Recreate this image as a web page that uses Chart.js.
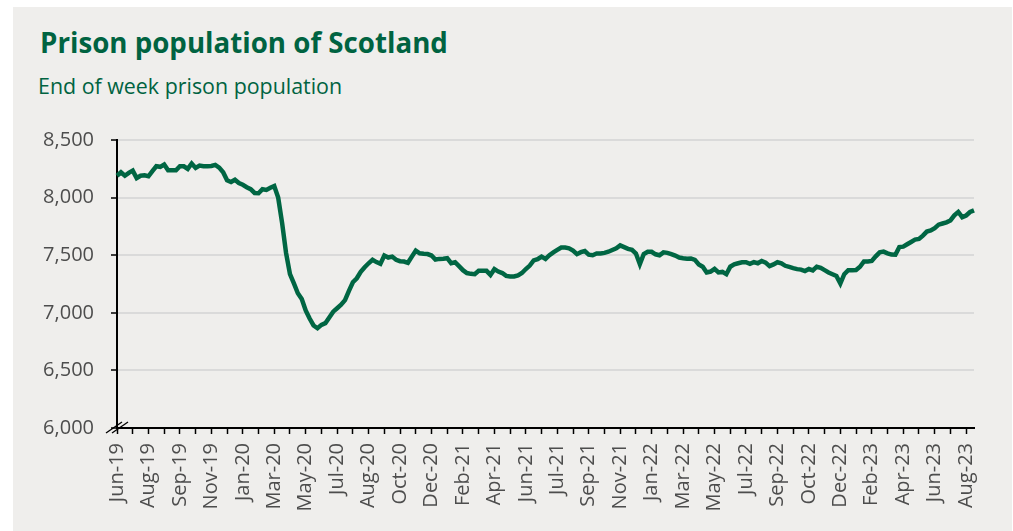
<!DOCTYPE html>
<html>
<head>
<meta charset="utf-8">
<script src="https://cdn.jsdelivr.net/npm/chart.js@4.4.0/dist/chart.umd.min.js"></script>
<style>
html,body{margin:0;padding:0;background:#ffffff;width:1013px;height:531px;overflow:hidden;}
#panel{position:absolute;left:13px;top:7px;width:999px;height:524px;background:#efeeec;}
#title{position:absolute;left:40px;top:29px;font-family:"Open Sans";font-weight:700;font-size:27.7px;line-height:1;color:#006341;white-space:nowrap;}
#sub{position:absolute;left:38px;top:75px;font-family:"Open Sans";font-weight:400;font-size:21.4px;line-height:1;color:#006341;white-space:nowrap;}
#c{position:absolute;left:0;top:0;}
</style>
</head>
<body>
<div id="panel"></div>
<div id="title">Prison population of Scotland</div>
<div id="sub">End of week prison population</div>
<canvas id="c" width="1013" height="531"></canvas>
<script>
// Tick labels along the x axis (one every 8 weeks)
const tickLabels = ['Jun-19','Aug-19','Sep-19','Nov-19','Jan-20','Mar-20','May-20','Jul-20','Aug-20','Oct-20','Dec-20','Feb-21','Apr-21','Jun-21','Jul-21','Sep-21','Nov-21','Jan-22','Mar-22','May-22','Jul-22','Sep-22','Oct-22','Dec-22','Feb-23','Apr-23','Jun-23','Aug-23'];
const weeksPerLabel = 8;
const weeksPerTickMark = 4;

// End of week prison population (weekly values)
const population = [
8190,8220,8190,8215,8234,8170,8190,8193,8185,8230,
8272,8267,8287,8237,8237,8237,8272,8272,8249,8296,
8258,8278,8272,8272,8275,8284,8260,8220,8150,8135,
8155,8126,8111,8090,8073,8040,8038,8073,8067,8085,
8100,8000,7780,7520,7335,7255,7170,7120,7020,6950,
6890,6866,6895,6910,6960,7010,7040,7070,7110,7190,
7265,7300,7355,7395,7430,7460,7440,7425,7497,7480,
7488,7460,7448,7445,7434,7488,7540,7517,7512,7510,
7497,7462,7468,7470,7474,7431,7439,7405,7370,7345,
7338,7335,7364,7364,7364,7329,7379,7358,7345,7320,
7315,7315,7325,7345,7380,7410,7455,7465,7488,7468,
7500,7525,7546,7566,7566,7560,7540,7509,7526,7536,
7505,7500,7515,7514,7520,7530,7545,7560,7585,7570,
7555,7546,7515,7422,7510,7530,7530,7508,7500,7525,
7520,7510,7497,7480,7474,7470,7472,7460,7420,7400,
7350,7358,7382,7350,7355,7335,7400,7420,7430,7439,
7439,7425,7440,7430,7450,7436,7405,7420,7439,7430,
7408,7398,7388,7379,7375,7362,7380,7368,7400,7390,
7370,7350,7335,7320,7254,7335,7370,7370,7372,7400,
7446,7446,7450,7490,7525,7531,7516,7505,7504,7570,
7574,7595,7615,7635,7641,7670,7705,7715,7735,7765,
7775,7785,7802,7846,7875,7830,7845,7875,7889
];

// Y axis settings
const yMin = 6000, yMax = 8500, yStep = 500;

Chart.defaults.font.family = '"Open Sans"';

const points = population.map((v, i) => ({x: i, y: v}));

const breakMark = {
  id: 'breakMark',
  afterDraw(chart) {
    const ctx = chart.ctx;
    const x0 = chart.scales.x.getPixelForValue(0);
    const y0 = chart.scales.y.getPixelForValue(yMin);
    ctx.save();
    ctx.strokeStyle = '#000';
    ctx.lineWidth = 1.3;
    [-3, 3].forEach(dx => {
      ctx.beginPath();
      ctx.moveTo(x0 + dx - 8, y0 + 5);
      ctx.lineTo(x0 + dx + 8, y0 - 6);
      ctx.stroke();
    });
    ctx.restore();
  }
};

new Chart(document.getElementById('c'), {
  type: 'line',
  data: {
    datasets: [{
      data: points,
      borderColor: '#006643',
      borderWidth: 4.5,
      pointRadius: 0,
      tension: 0,
      fill: false,
      clip: false
    }]
  },
  options: {
    responsive: false,
    animation: false,
    events: [],
    layout: {padding: {left: 13, top: 140, right: 39, bottom: 0}},
    plugins: {legend: {display: false}, tooltip: {enabled: false}},
    scales: {
      x: {
        type: 'linear',
        min: 0,
        max: population.length - 1,
        afterFit(s) { s.height = 103; },
        border: {display: true, color: '#000', width: 2},
        grid: {display: true, drawOnChartArea: false, drawTicks: true, tickLength: 6, tickColor: '#000', tickWidth: 1.5},
        ticks: {
          stepSize: weeksPerTickMark,
          autoSkip: false,
          includeBounds: false,
          maxRotation: 90,
          minRotation: 90,
          padding: 9,
          color: '#4d4d4d',
          font: {size: 20},
          callback: v => (v % weeksPerLabel === 0 && tickLabels[v / weeksPerLabel]) ? tickLabels[v / weeksPerLabel] : ''
        }
      },
      y: {
        min: yMin,
        max: yMax,
        afterFit(s) { s.width = 104; },
        border: {display: true, color: '#000', width: 2},
        grid: {color: '#dadada', lineWidth: 2, drawTicks: true, tickLength: 6, tickColor: '#000', tickWidth: 1.5},
        ticks: {
          stepSize: yStep,
          padding: 17,
          color: '#4d4d4d',
          font: {size: 20}
        }
      }
    }
  },
  plugins: [breakMark]
});
</script>
</body>
</html>
